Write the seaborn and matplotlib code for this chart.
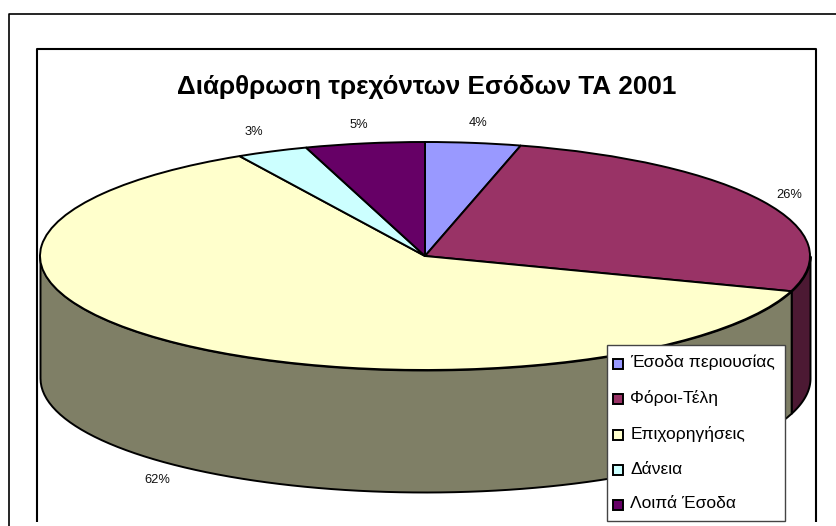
import numpy as np
import pandas as pd
import seaborn as sns
import matplotlib.pyplot as plt
from matplotlib.lines import Line2D
from matplotlib.patches import Rectangle, Wedge
from matplotlib.legend_handler import HandlerPatch

title = 'Διάρθρωση τρεχόντων Εσόδων ΤΑ 2001'
categories = ['Έσοδα περιουσίας', 'Φόροι-Τέλη', 'Επιχορηγήσεις', 'Δάνεια', 'Λοιπά Έσοδα']
shares = [4, 26, 62, 3, 5]
colors = ['#9999FF', '#993366', '#FFFFCC', '#CCFFFF', '#660066']
wall_colors = ['#4C4C7F', '#4C1933', '#7F7F66', '#667F7F', '#330033']
# label centres in pixels
label_pos = [(478, 123), (789, 195), (157, 480), (254, 132), (359, 125)]

W, H = 836, 526
CX, CY, RX, RY = 425, 256, 385, 114
DEPTH = 122 / RY

sns.set_theme(style='white')
plt.rcParams['font.family'] = ['Liberation Sans', 'DejaVu Sans']

df = pd.DataFrame({'category': categories, 'share': shares})

fig = plt.figure(figsize=(W / 100, H / 100), dpi=100, facecolor='white')
ax = fig.add_axes([0, 0, 1, 1])

wedges, _ = ax.pie(df['share'], colors=sns.color_palette(colors), startangle=90,
                   counterclock=False, radius=1,
                   wedgeprops=dict(edgecolor='black', linewidth=1.4, zorder=3))
ax.set_aspect('auto')
ax.set_xlim(-CX / RX, (W - CX) / RX)
ax.set_ylim((CY - H) / RY, CY / RY)
ax.axis('off')

# side walls, only the front half of the ellipse shows
start = 90.0
for share, wall in zip(df['share'], wall_colors):
    end = start - share * 3.6
    a = (start + 180) % 360 - 180
    b = a - share * 3.6
    lo, hi = max(b, -180), min(a, 0)
    if hi > lo:
        th = np.radians(np.linspace(hi, lo, 80))
        ax.fill_between(np.cos(th), np.sin(th), np.sin(th) - DEPTH, facecolor=wall,
                        edgecolor='black', linewidth=1.4, zorder=2)
    start = end

for share, (px, py) in zip(df['share'], label_pos):
    fig.text(px / W, 1 - py / H, f'{share}%', ha='center', va='center',
             fontsize=9.3, color='#111111')

fig.text(427 / W, 1 - 87 / H, title, ha='center', va='center', fontsize=18.8,
         fontweight='bold', color='black')


# square swatch, pushed a little left of the legend padding
def swatch(legend, orig_handle, xdescent, ydescent, width, height, fontsize):
    return Rectangle((-2.2, -1), 7.2, 7.2)


leg = ax.legend(wedges, df['category'], loc='lower left',
                bbox_to_anchor=(607 / W, 1 - 521 / H), bbox_transform=fig.transFigure,
                fontsize=12.5, frameon=True, fancybox=False, edgecolor='#444444',
                framealpha=1, handlelength=0.58, handleheight=0.6, handletextpad=0.22,
                labelspacing=1.14, borderpad=0.55, borderaxespad=0, labelcolor='black',
                handler_map={Wedge: HandlerPatch(patch_func=swatch)})
leg.set_zorder(5)
leg.get_frame().set_linewidth(1)


# frames around the chart, open at the bottom
def frame_line(xs, ys, lw):
    fig.add_artist(Line2D([x / W for x in xs], [1 - y / H for y in ys],
                          color='black', linewidth=lw, solid_capstyle='butt'))


frame_line([9, 9, W], [H, 13.5, 13.5], 1.2)
frame_line([37, 37, 816, 816], [522, 48.5, 48.5, 522], 1.5)

fig.savefig('out.png', dpi=100)
